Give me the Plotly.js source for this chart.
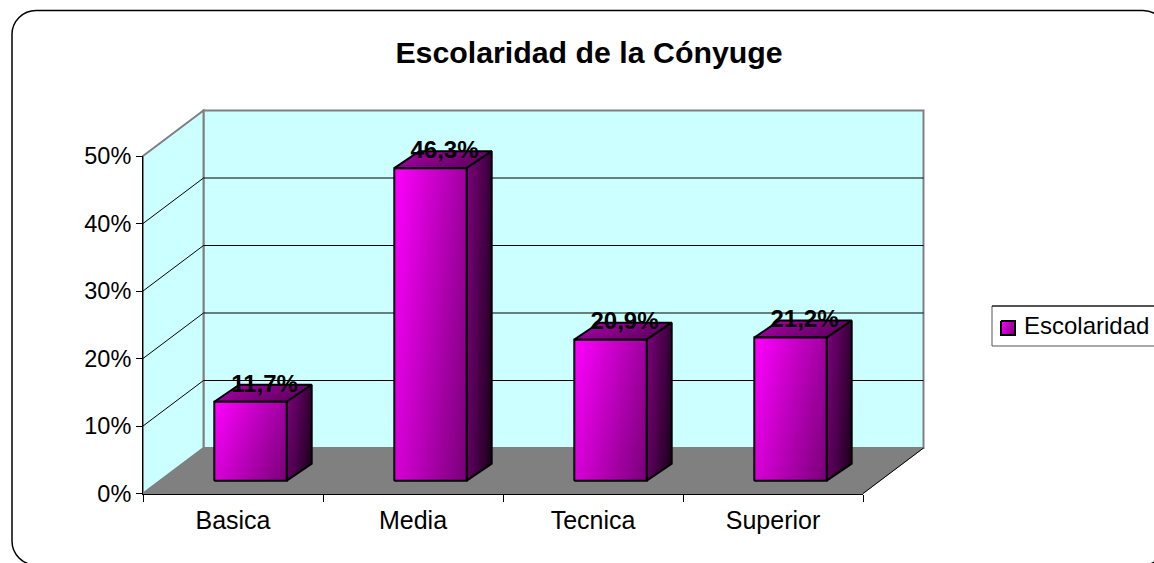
<!DOCTYPE html>
<html><head><meta charset="utf-8">
<script src="https://cdn.plot.ly/plotly-3.0.1.min.js"></script>
<style>html,body{margin:0;padding:0;background:#fff;overflow:hidden}#c{width:1154px;height:563px;overflow:hidden}</style>
</head><body><div id="c"></div>
<script>
const categories = ['Basica','Media','Tecnica','Superior'];
const values = [11.7,46.3,20.9,21.2];
const valueLabels = ['11,7%','46,3%','20,9%','21,2%'];
const yTicks = [0,10,20,30,40,50];
const seriesName = 'Escolaridad';
const chartTitle = 'Escolaridad de la Cónyuge';

const W=1154,H=563;
const L=143,R=863,T=156,B=493.5;
const pxX=(R-L)/categories.length, pxY=(B-T)/50;
const backDX=60.5/pxX, backDY=45.5/pxY;
const barOff=71.3/pxX, barW=72.4/pxX;
const barLift=12.8/pxY;
const dDX=25/pxX, dDY=17/pxY;
const FONT='"Liberation Sans", Arial, sans-serif';
const n=categories.length, yMax=50;
const ux=px=>(px-L)/pxX, uy=py=>(B-py)/pxY;
const poly=(pts)=>'M'+pts.map(p=>p[0]+','+p[1]).join(' L')+' Z';
const line=(x0,y0,x1,y1,color,width)=>({type:'line',xref:'x',yref:'y',x0,y0,x1,y1,layer:'below',line:{color,width:width||1}});

const framePath=(()=>{const x0=12,y0=10.5,x1=1167,y1=565,r=24,k=r*0.45;
  const c=(x,y)=>(x/W)+','+(1-y/H);
  return 'M'+c(x0+r,y0)+' L'+c(x1-r,y0)+' C'+c(x1-k,y0)+' '+c(x1,y0+k)+' '+c(x1,y0+r)+
   ' L'+c(x1,y1-r)+' C'+c(x1,y1-k)+' '+c(x1-k,y1)+' '+c(x1-r,y1)+
   ' L'+c(x0+r,y1)+' C'+c(x0+k,y1)+' '+c(x0,y1-k)+' '+c(x0,y1-r)+
   ' L'+c(x0,y0+r)+' C'+c(x0,y0+k)+' '+c(x0+k,y0)+' '+c(x0+r,y0)+' Z';})();

const shapes=[
 {type:'path',xref:'paper',yref:'paper',layer:'below',line:{color:'#000',width:1.5},fillcolor:'#fff',path:framePath},
 {type:'path',xref:'x',yref:'y',layer:'below',fillcolor:'#ccffff',line:{color:'#808080',width:2},
  path:poly([[backDX,backDY],[n+backDX,backDY],[n+backDX,yMax+backDY],[backDX,yMax+backDY]])},
 {type:'path',xref:'x',yref:'y',layer:'below',fillcolor:'#ccffff',line:{color:'#808080',width:2},
  path:poly([[0,0],[backDX,backDY],[backDX,yMax+backDY],[0,yMax]])},
 {type:'path',xref:'x',yref:'y',layer:'below',fillcolor:'#808080',line:{color:'#808080',width:1},
  path:poly([[0,0],[n,0],[n+backDX,backDY],[backDX,backDY]])},
 line(n,0,n+backDX,backDY,'#000',1),
 {type:'path',xref:'x',yref:'y',layer:'below',fillcolor:'#fff',line:{color:'#555',width:1},
  path:poly([[ux(992),uy(306)],[ux(1180),uy(306)],[ux(1180),uy(346)],[ux(992),uy(346)]])},
 line(ux(992),uy(306),ux(1180),uy(306),'#000',1),
];
yTicks.slice(1,-1).forEach(v=>{
 shapes.push(line(0,v,backDX,v+backDY,'#000',1));
 shapes.push(line(backDX,v+backDY,n+backDX,v+backDY,'#000',1));
});

const traces=[];
const grad=(a,b)=>({type:'horizontal',colorscale:[[0,a],[1,b]]});
const common={type:'scatter',mode:'lines',line:{color:'#000',width:2},fill:'toself',cliponaxis:false,showlegend:false,hoverinfo:'skip'};
values.forEach((v,i)=>{
 const x0=i+barOff,x1=x0+barW,y0=barLift,y1=barLift+v;
 traces.push(Object.assign({},common,{x:[x0,x1,x1+dDX,x0+dDX,x0],y:[y1,y1,y1+dDY,y1+dDY,y1],fillgradient:grad('#b000b0','#500050')}));
 traces.push(Object.assign({},common,{x:[x1,x1+dDX,x1+dDX,x1,x1],y:[y0,y0+dDY,y1+dDY,y1,y0],fillgradient:grad('#800080','#180018')}));
 traces.push(Object.assign({},common,{x:[x0,x1,x1,x0,x0],y:[y0,y0,y1,y1,y0],fillgradient:grad('#ff00ff','#780078')}));
});
traces.push({type:'scatter',mode:'text',x:values.map((v,i)=>i+barOff+barW/2+dDX/2+1.5/pxX),y:values.map(v=>v+barLift+dDY*0.95),
  text:valueLabels,textposition:'middle center',textfont:{family:FONT,size:24,color:'#000',weight:'bold'},cliponaxis:false,showlegend:false,hoverinfo:'skip'});
traces.push(Object.assign({},common,{x:[ux(1001),ux(1015),ux(1015),ux(1001),ux(1001)],y:[uy(321),uy(321),uy(335),uy(335),uy(321)],fillgradient:grad('#ff00ff','#780078')}));
traces.push({type:'scatter',mode:'markers',x:[null],y:[null],xaxis:'x2',yaxis:'y2',showlegend:false,hoverinfo:'skip'});

const hidden={visible:false,showgrid:false,zeroline:false,fixedrange:true};
const layout={
 width:W,height:H,margin:{l:0,r:0,t:0,b:0},paper_bgcolor:'#fff',plot_bgcolor:'rgba(0,0,0,0)',showlegend:false,
 font:{family:FONT,color:'#000'},
 title:{text:chartTitle,font:{family:FONT,size:30.3,weight:'bold',color:'#000'},x:589/W,xanchor:'center',y:1-52/H,yanchor:'middle'},
 xaxis:Object.assign({domain:[0,1],range:[ux(0),ux(W)]},hidden),
 yaxis:Object.assign({domain:[0,1],range:[uy(H),uy(0)]},hidden),
 xaxis2:{domain:[L/W,R/W],range:[0,n],anchor:'y2',showgrid:false,zeroline:false,showline:true,linecolor:'#000',linewidth:1,
   tickmode:'array',tickvals:categories.map((c,i)=>i+0.5),ticktext:categories,ticks:'',tickfont:{size:25,family:FONT},ticklabelstandoff:4,
   minor:{tickmode:'array',tickvals:[0,1,2,3,4],ticks:'outside',ticklen:7,tickcolor:'#000',tickwidth:1,showgrid:false}},
 yaxis2:{domain:[(H-B)/H,(H-T)/H],range:[0,yMax],anchor:'x2',showgrid:false,zeroline:false,showline:true,linecolor:'#000',linewidth:1,
   tickmode:'array',tickvals:yTicks,ticktext:yTicks.map(v=>v+'%'),ticks:'outside',ticklen:6,tickcolor:'#000',tickfont:{size:23.5,family:FONT}},
 annotations:[{xref:'x',yref:'y',x:ux(1024),y:uy(325),text:seriesName,showarrow:false,xanchor:'left',yanchor:'middle',xshift:-2,font:{family:FONT,size:24,color:'#000'}}],
 shapes
};
Plotly.newPlot('c',traces,layout,{displayModeBar:false,staticPlot:true}).then(gd=>{
 gd.querySelectorAll('defs linearGradient').forEach(g=>{
  g.setAttribute('x1','1.207');g.setAttribute('y1','0.517');g.setAttribute('x2','0');g.setAttribute('y2','0');
 });
});
</script></body></html>
